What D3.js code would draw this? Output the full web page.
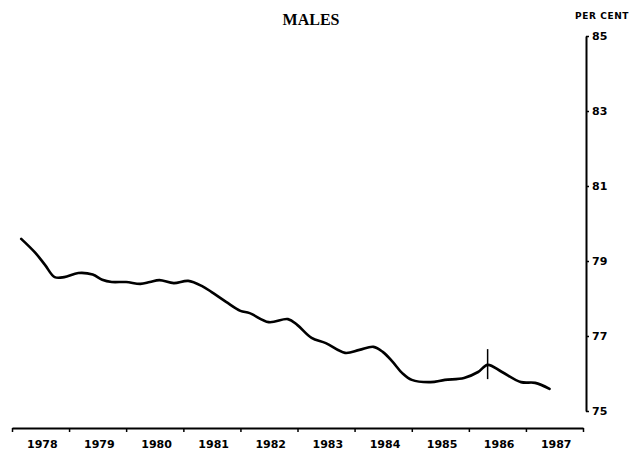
<!DOCTYPE html>
<html>
<head>
<meta charset="utf-8">
<script src="https://cdn.jsdelivr.net/npm/d3@7"></script>
<style>
  body { margin: 0; background: #fff; }
  svg { display: block; }
</style>
</head>
<body>
<div id="chart"></div>
<script>
var width = 642, height = 453;

// values (per cent, males)
var months = ["1978-03","1978-06","1978-08","1978-10","1978-12","1979-03","1979-06","1979-08",
  "1979-10","1980-01","1980-04","1980-06","1980-08","1980-11","1981-02","1981-05","1981-07",
  "1981-10","1982-01","1982-03","1982-07","1982-11","1983-01","1983-04","1983-07","1983-11",
  "1984-02","1984-05","1984-07","1984-09","1984-11","1985-01","1985-05","1985-08","1985-12",
  "1986-03","1986-05","1986-08","1986-12","1987-03","1987-06"];
var rates = [79.59,79.21,78.89,78.57,78.57,78.68,78.64,78.5,
  78.44,78.44,78.39,78.44,78.49,78.41,78.47,78.33,78.17,
  77.91,77.67,77.61,77.37,77.45,77.29,76.95,76.81,76.55,
  76.63,76.71,76.57,76.31,76.01,75.83,75.77,75.83,75.88,
  76.04,76.23,76.04,75.77,75.75,75.59];
var years = [1978,1979,1980,1981,1982,1983,1984,1985,1986,1987];
var yTicks = [75,77,79,81,83,85];
var breakMonth = "1986-05";
var breakRange = [75.85, 76.65];

var parse = d3.timeParse("%Y-%m");
var data = months.map(function(m, i) { return {date: parse(m), value: rates[i]}; });

var svg = d3.select("#chart")
  .append("svg")
    .attr("width", width)
    .attr("height", height);

svg.append("rect")
  .attr("width", width).attr("height", height)
  .attr("fill", "#fff");

var x = d3.scaleTime()
  .domain([new Date(1978, 0, 1), new Date(1988, 0, 1)])
  .range([12, 583]);

var y = d3.scaleLinear()
  .domain([75, 85])
  .range([411, 36]);

// bottom axis: year boundaries as ticks, labels centred in each year
var xAxis = svg.append("g")
  .attr("transform", "translate(0,428)")
  .call(d3.axisBottom(x)
    .tickValues(years.concat([1988]).map(function(yr) { return new Date(yr, 0, 1); }))
    .tickSize(4)
    .tickSizeOuter(0)
    .tickFormat(""));
xAxis.select(".domain").attr("stroke-width", 2);
xAxis.selectAll(".tick line").attr("stroke-width", 1.5);

svg.selectAll("yearlabel")
  .data(years)
  .enter()
  .append("text")
    .attr("x", function(d) { return x(new Date(d, 6, 1)) + 2; })
    .attr("y", 448)
    .attr("text-anchor", "middle")
    .style("font-family", "DejaVu Sans")
    .style("font-weight", "bold")
    .style("font-size", "11px")
    .text(function(d) { return d; });

// right axis
var yAxis = svg.append("g")
  .attr("transform", "translate(586,0)")
  .call(d3.axisRight(y)
    .tickValues(yTicks)
    .tickSize(3)
    .tickSizeOuter(0));
yAxis.select(".domain").attr("stroke-width", 2);
yAxis.selectAll(".tick line").attr("stroke-width", 1.5);
yAxis.selectAll("text")
  .attr("x", 6)
  .style("font-family", "DejaVu Sans")
  .style("font-weight", "bold")
  .style("font-size", "11px")
  .attr("fill", "#000");

svg.append("text")
  .attr("x", 602)
  .attr("y", 19)
  .attr("text-anchor", "middle")
  .style("font-family", "DejaVu Sans")
  .style("font-weight", "bold")
  .style("font-size", "9px")
  .style("letter-spacing", "0.6px")
  .text("PER CENT");

svg.append("text")
  .attr("x", 311)
  .attr("y", 25)
  .attr("text-anchor", "middle")
  .style("font-family", "Liberation Serif")
  .style("font-weight", "bold")
  .style("font-size", "16px")
  .text("MALES");

// the series
var line = d3.line()
  .x(function(d) { return x(d.date); })
  .y(function(d) { return y(d.value); })
  .curve(d3.curveCatmullRom.alpha(0.5));

svg.append("path")
  .datum(data)
  .attr("fill", "none")
  .attr("stroke", "#000")
  .attr("stroke-width", 2.6)
  .attr("stroke-linejoin", "round")
  .attr("stroke-linecap", "round")
  .attr("d", line);

// series break marker
svg.append("line")
  .attr("x1", x(parse(breakMonth)))
  .attr("x2", x(parse(breakMonth)))
  .attr("y1", y(breakRange[0]))
  .attr("y2", y(breakRange[1]))
  .attr("stroke", "#000")
  .attr("stroke-width", 1.5);
</script>
</body>
</html>
